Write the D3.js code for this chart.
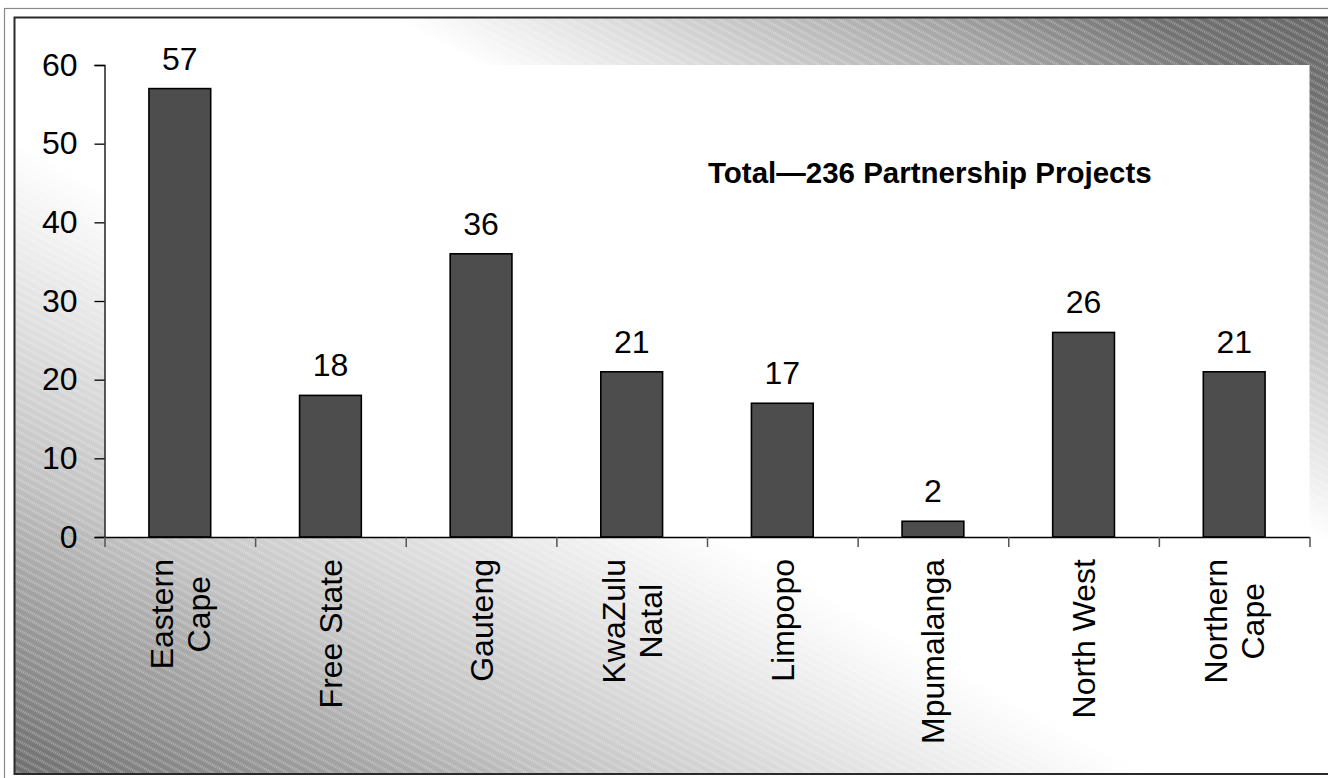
<!DOCTYPE html>
<html>
<head>
<meta charset="utf-8">
<script src="https://cdn.jsdelivr.net/npm/d3@7"></script>
<style>
  html, body { margin: 0; padding: 0; background: #ffffff; }
  svg { display: block; }
  text { font-family: Arial, "Liberation Sans", sans-serif; fill: #000; }
</style>
</head>
<body>
<script>
// Partnership projects by province
const provinces = [
  ["Eastern", "Cape"],
  ["Free State"],
  ["Gauteng"],
  ["KwaZulu", "Natal"],
  ["Limpopo"],
  ["Mpumalanga"],
  ["North West"],
  ["Northern", "Cape"]
];
const projects = [57, 18, 36, 21, 17, 2, 26, 21];
const yTicks = [0, 10, 20, 30, 40, 50, 60];
const titleText = "Total\u2014236 Partnership Projects";

const W = 1328, H = 778;
const plot = { left: 104.5, right: 1309.5, top: 65, bottom: 537 };

const svg = d3.select("body").append("svg")
  .attr("width", W).attr("height", H);

const defs = svg.append("defs");

// Diagonal shading: dark at lower-left and upper-right, a broad white band between
const grad = defs.append("linearGradient")
  .attr("id", "bgGrad")
  .attr("x1", 0).attr("y1", 1).attr("x2", 1).attr("y2", 0);
[[0, "#6e6e6e"], [0.1, "#979797"], [0.2, "#c2c2c2"], [0.32, "#e4e4e4"],
 [0.42, "#ffffff"], [0.64, "#ffffff"], [0.72, "#dcdcdc"], [0.84, "#a4a4a4"],
 [0.92, "#727272"], [1, "#666666"]].forEach(([o, c]) =>
  grad.append("stop").attr("offset", o).attr("stop-color", c));

// Fine light hatching laid over the shading
const hatch = defs.append("pattern")
  .attr("id", "hatch")
  .attr("patternUnits", "userSpaceOnUse")
  .attr("width", 8).attr("height", 7)
  .attr("patternTransform", "rotate(28)");
hatch.append("line")
  .attr("x1", 0).attr("y1", 1.5).attr("x2", 8).attr("y2", 1.5)
  .attr("stroke", "#ffffff").attr("stroke-opacity", 0.36)
  .attr("stroke-width", 2.4).attr("stroke-dasharray", "1 1");

// Outer frame
svg.append("rect")
  .attr("x", 4.5).attr("y", 8.5).attr("width", W + 10).attr("height", H + 10)
  .attr("fill", "#ffffff").attr("stroke", "#8a8a8a").attr("stroke-width", 1.2);

// Chart area
const areaX = 14.5, areaY = 17.5, areaW = W + 20, areaH = 774 - 17.5;
svg.append("rect")
  .attr("x", areaX).attr("y", areaY).attr("width", areaW).attr("height", areaH)
  .attr("fill", "url(#bgGrad)");
svg.append("rect")
  .attr("x", areaX).attr("y", areaY).attr("width", areaW).attr("height", areaH)
  .attr("fill", "url(#hatch)");
svg.append("rect")
  .attr("x", areaX).attr("y", areaY).attr("width", areaW).attr("height", areaH)
  .attr("fill", "none").attr("stroke", "#2a2a2a").attr("stroke-width", 2);

// Plot area
svg.append("rect")
  .attr("x", plot.left).attr("y", plot.top)
  .attr("width", plot.right - plot.left).attr("height", plot.bottom - plot.top)
  .attr("fill", "#ffffff");

const keys = provinces.map(p => p.join(" "));
const x = d3.scaleBand().domain(keys)
  .range([plot.left, plot.right])
  .paddingInner(0.59).paddingOuter(0.295);
const y = d3.scaleLinear().domain([0, 60]).range([plot.bottom, plot.top]);

// Bars
svg.append("g").selectAll("rect")
  .data(projects)
  .join("rect")
  .attr("x", (d, i) => x(keys[i]))
  .attr("y", d => y(d))
  .attr("width", x.bandwidth())
  .attr("height", d => y(0) - y(d))
  .attr("fill", "#4d4d4d")
  .attr("stroke", "#000")
  .attr("stroke-width", 1.6);

// Value labels
svg.append("g").selectAll("text")
  .data(projects)
  .join("text")
  .attr("x", (d, i) => x(keys[i]) + x.bandwidth() / 2)
  .attr("y", d => y(d) - 19)
  .attr("text-anchor", "middle")
  .attr("font-size", 32)
  .text(d => d);

// Y axis
const yAxis = svg.append("g")
  .attr("transform", `translate(${plot.left},0)`)
  .call(d3.axisLeft(y).tickValues(yTicks).tickSize(10).tickPadding(17));
yAxis.select(".domain").attr("stroke", "#000").attr("stroke-width", 1.3);
yAxis.selectAll(".tick line").attr("stroke", "#000").attr("stroke-width", 1.3);
yAxis.selectAll(".tick text")
  .attr("font-size", 32).attr("font-family", "Arial, 'Liberation Sans', sans-serif")
  .attr("fill", "#000");

// X axis with ticks between categories
const xEdges = d3.scaleLinear().domain([0, provinces.length]).range([plot.left, plot.right]);
const xAxis = svg.append("g")
  .attr("transform", `translate(0,${plot.bottom})`)
  .call(d3.axisBottom(xEdges).tickValues(d3.range(provinces.length + 1))
    .tickSize(10).tickSizeOuter(0).tickFormat(""));
xAxis.select(".domain").attr("stroke", "#000").attr("stroke-width", 1.5);
xAxis.selectAll(".tick line").attr("stroke", "#555").attr("stroke-width", 1.5);

// Category labels, rotated, lines centred against the longest line
const fs = 32, lineH = 37, labelTop = 559;
const cats = svg.append("g");
provinces.forEach((lines, i) => {
  const cx = x(keys[i]) + x.bandwidth() / 2;
  const g = cats.append("g")
    .attr("transform", `translate(${cx},${labelTop}) rotate(-90)`);
  const texts = lines.map((ln, j) => g.append("text")
    .attr("font-size", fs)
    .attr("text-anchor", "middle")
    .attr("y", (j - (lines.length - 1) / 2) * lineH + fs * 0.358)
    .text(ln));
  const maxW = d3.max(texts, t => t.node().getComputedTextLength());
  texts.forEach(t => t.attr("x", -maxW / 2));
});

// Annotation
svg.append("text")
  .attr("x", 708).attr("y", 183)
  .attr("font-size", 29.5).attr("font-weight", "bold")
  .text(titleText);
</script>
</body>
</html>
